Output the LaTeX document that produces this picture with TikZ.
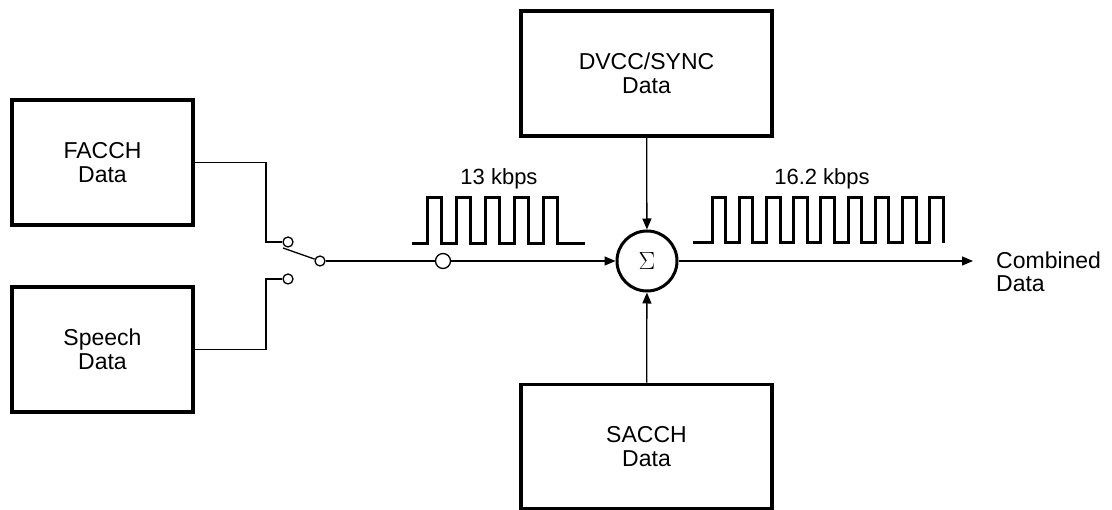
\documentclass[tikz,border=0pt]{standalone}
\usepackage{fontspec}
\setmainfont{Liberation Sans}
\usetikzlibrary{arrows.meta}
\begin{document}
\begin{tikzpicture}[x=1pt,y=-1pt,
  databox/.style={draw, line width=3.5pt, minimum width=181pt, minimum height=125pt,
    align=center, inner sep=0pt, font=\fontsize{23}{24}\selectfont},
  wire/.style={line width=1.3pt},
  flow/.style={line width=1.3pt, -{Triangle[length=11pt,width=9pt]}},
  contact/.style={draw, circle, line width=1.3pt, minimum size=10pt, inner sep=0pt, fill=white},
  pulse/.style={line width=3pt, line join=miter},
  rate/.style={font=\fontsize{22}{24}\selectfont, anchor=base, inner sep=0pt}
]
\useasboundingbox (0,0) rectangle (1112,510);

% boxes
\node[databox] (facch) at (102.5,162.5) {FACCH\\Data};
\node[databox] (speech) at (102.5,349.5) {Speech\\Data};
\node[databox, minimum width=251pt] (dvcc) at (646.5,73.5) {DVCC/SYNC\\Data};
\node[databox, minimum width=251pt, minimum height=124pt] (sacch) at (646.5,446.5) {SACCH\\Data};

% summing junction
\node[draw, circle, line width=3pt, minimum size=60pt, inner sep=0pt,
  font=\fontsize{23}{23}\selectfont] (sum) at (647,261) {$\Sigma$};

% switch
\coordinate (jx) at (266,0);
\node[contact] (up) at (288,242) {};
\node[contact] (lo) at (288,279) {};
\node[contact] (pivot) at (320,261) {};
\coordinate (blade) at (283,248);
\node[contact, minimum size=15pt] (probe) at (443,261) {};

\draw[wire] (facch.east) -- (facch.east -| jx) |- (up.west);
\draw[wire] (speech.east) -- (speech.east -| jx) |- (lo.west);
\draw[wire] (blade) -- (pivot);
\draw[wire] (pivot) -- (probe);
\draw[flow] (probe) -- (sum);
\draw[flow] (dvcc) -- (sum);
\draw[flow] (sacch) -- (sum);

\coordinate (outend) at (973,261);
\draw[flow] (sum) -- (outend);
\node[font=\fontsize{23}{23}\selectfont, align=left, anchor=west, inner sep=0pt] (combined) at (996,272) {Combined\\Data};

% pulse trains
\node[rate] (r13) at (499,185) {13 kbps};
\node[rate] (r162) at (822,185) {16.2 kbps};

\draw[pulse] (412,244) -| (427,198) -| (441,244) -| (456,198) -| (470,244) -| (485,198)
  -| (499,244) -| (514,198) -| (528,244) -| (543,198) -| (557,244) -- (585,244);

\draw[pulse] (693,243) -| (712,198) -| (725.6,243) -| (739.2,198) -| (752.8,243)
  -| (766.4,198) -| (780,243) -| (793.6,198) -| (807.2,243) -| (820.8,198)
  -| (834.4,243) -| (848,198) -| (861.6,243) -| (875.2,198) -| (888.8,243)
  -| (902.4,198) -| (916,243) -| (929.6,198) -| (943.2,243);
\end{tikzpicture}
\end{document}
